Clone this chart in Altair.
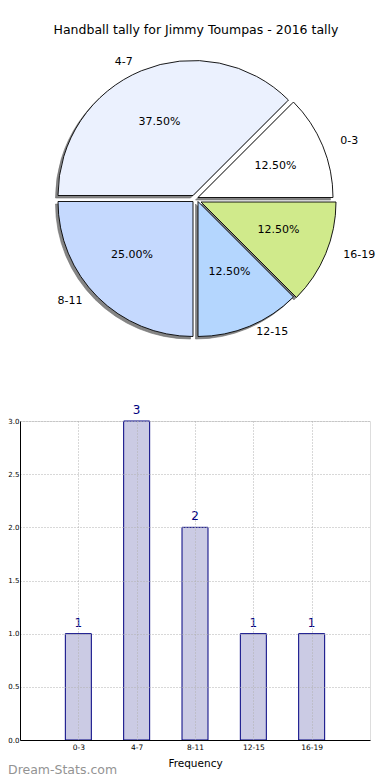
import math
import altair as alt
import pandas as pd

# ---------------- data ----------------
categories = ["0-3", "4-7", "8-11", "12-15", "16-19"]
counts = [1, 3, 2, 1, 1]
slice_colors = ["#ffffff", "#ebf1fe", "#c5d9fe", "#b4d6fe", "#d0ea8b"]
y_ticks = [0.0, 0.5, 1.0, 1.5, 2.0, 2.5, 3.0]
title_text = "Handball tally for Jimmy Toumpas - 2016 tally"
x_title = "Frequency"
watermark = "Dream-Stats.com"

total = sum(counts)
df = pd.DataFrame({"cat": categories, "count": counts, "idx": list(range(len(categories)))})

# ---------------- styling / layout ----------------
FONT = "DejaVu Sans"
LEFT, TOP = 12, 413          # bar-plot origin inside the canvas
PLOT_W, PLOT_H = 350, 319
CX, CY = 175, -223           # pie centre relative to bar-plot origin
WEDGE_SHIFT = (1, 1.5)       # circle centre nudge
R = 135
LRX, LRY = 155, 143          # outer label radii (x, y)
PRX, PRY = 85, 78            # percentage label radii (x, y)
explode = {"0-3": (2, -2), "4-7": (-3, -4), "8-11": (-3, 2), "12-15": (2, 2), "16-19": (5, 2.5)}
SHADOW = (-2.5, 2.5)

theta_scale = alt.Scale(domain=[0, total], range=[math.pi / 2, 5 * math.pi / 2])

pie_base = (
    alt.Chart(df)
    .transform_window(end="sum(count)", sort=[alt.SortField("idx", order="descending")])
    .transform_calculate(
        start="datum.end - datum.count",
        mid="datum.end - datum.count / 2",
        pct=f"format(datum.count / {total}, '.2%')",
        ca=f"cos(2 * PI * (datum.end - datum.count / 2) / {total})",
        sa=f"sin(2 * PI * (datum.end - datum.count / 2) / {total})",
    )
)

shadow_layers, wedge_layers, label_layers = [], [], []
for c in categories:
    dx, dy = explode[c]
    sub = pie_base.transform_filter(alt.datum.cat == c)
    wx, wy = CX + dx + WEDGE_SHIFT[0], CY + dy + WEDGE_SHIFT[1]
    shadow_layers.append(
        sub.mark_arc(radius=R, fill="#858585", stroke="#707070", strokeWidth=0.6).encode(
            x=alt.value(wx + SHADOW[0]),
            y=alt.value(wy + SHADOW[1]),
            theta=alt.Theta("start:Q", scale=theta_scale, stack=None),
            theta2=alt.Theta2("end:Q"),
        )
    )
    wedge_layers.append(
        sub.mark_arc(radius=R, stroke="black", strokeWidth=0.9).encode(
            x=alt.value(wx),
            y=alt.value(wy),
            theta=alt.Theta("start:Q", scale=theta_scale, stack=None),
            theta2=alt.Theta2("end:Q"),
            color=alt.Color("cat:N", scale=alt.Scale(domain=categories, range=slice_colors), legend=None),
        )
    )
    side = "left" if c in ("0-3", "12-15", "16-19") else "right"
    lab = sub.transform_calculate(
        lx=f"{CX + dx} + {LRX} * datum.ca",
        ly=f"{CY + dy} + {LRY} * datum.sa",
        px=f"{CX + dx} + {PRX} * datum.ca",
        py=f"{CY + dy} + {PRY} * datum.sa",
    )
    label_layers.append(
        lab.mark_text(align=side, baseline="middle", fontSize=11, font=FONT, color="black").encode(
            x=alt.X("lx:Q", scale=None, axis=None),
            y=alt.Y("ly:Q", scale=None, axis=None),
            text="cat:N",
        )
    )
    label_layers.append(
        lab.mark_text(align="center", baseline="middle", fontSize=11, font=FONT, color="black").encode(
            x=alt.X("px:Q", scale=None, axis=None),
            y=alt.Y("py:Q", scale=None, axis=None),
            text="pct:N",
        )
    )

title = alt.Chart(pd.DataFrame({"t": [title_text]})).mark_text(
    fontSize=12.5, font=FONT, color="black", align="center", baseline="middle"
).encode(text="t:N", x=alt.value(CX + 1), y=alt.value(-391))

wm = alt.Chart(pd.DataFrame({"t": [watermark]})).mark_text(
    fontSize=12.5, font=FONT, color="#939393", align="left", baseline="middle"
).encode(text="t:N", x=alt.value(-LEFT), y=alt.value(349))

x_enc = alt.X(
    "cat:N",
    sort=categories,
    scale=alt.Scale(type="point", padding=1),
    axis=alt.Axis(
        title=x_title, labelAngle=0, labelFontSize=7.5, labelColor="black", labelPadding=3,
        ticks=False, grid=True, gridDash=[1, 2], gridColor="#b0b0b0", gridWidth=1,
        domainColor="black", titleFontSize=10.5, titleFontWeight="normal", titleColor="black",
        titlePadding=8, zindex=1, labelFont=FONT, titleFont=FONT,
    ),
)
y_enc = alt.Y(
    "count:Q",
    scale=alt.Scale(domain=[0, 3], nice=False),
    axis=alt.Axis(
        title=None, values=y_ticks, format=".1f", labelFontSize=7, labelColor="black",
        labelPadding=1, ticks=False, grid=True, gridDash=[1, 2], gridColor="#b0b0b0",
        gridWidth=1, domainColor="black", zindex=1, labelFont=FONT,
    ),
)

bars = alt.Chart(df).mark_bar(size=26, fill="#cbcbe4", stroke="#000080", strokeWidth=1).encode(
    x=x_enc, y=y_enc
)
bar_text = alt.Chart(df).mark_text(
    baseline="bottom", dy=-4, fontSize=12, font=FONT, color="#000080"
).encode(x=alt.X("cat:N", sort=categories), y="count:Q", text="count:Q")

chart = alt.layer(
    bars, bar_text, *shadow_layers, *wedge_layers, *label_layers, title, wm
).properties(
    width=PLOT_W,
    height=PLOT_H,
    autosize=alt.AutoSizeParams(type="none"),
    padding={"left": LEFT, "top": TOP, "right": 374 - LEFT - PLOT_W, "bottom": 36},
).configure_view(stroke="black", strokeWidth=1).configure(font=FONT)

chart.save("out.html", embed_options={"renderer": "svg", "actions": False})
